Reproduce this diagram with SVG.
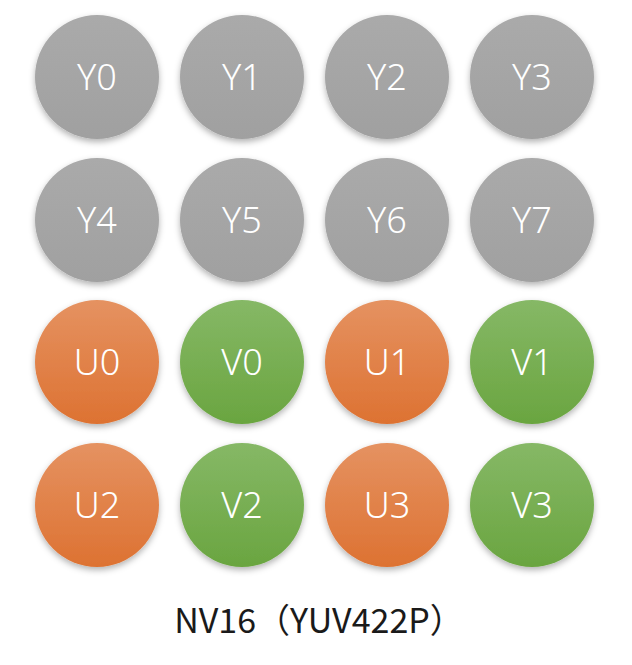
<svg xmlns="http://www.w3.org/2000/svg" width="632" height="665" viewBox="0 0 632 665">
<defs>
<linearGradient id="gy" x1="0" y1="0" x2="0" y2="1"><stop offset="0" stop-color="#aaaaaa"/><stop offset="1" stop-color="#a0a0a0"/></linearGradient>
<linearGradient id="go" x1="0" y1="0" x2="0" y2="1"><stop offset="0" stop-color="#e59261"/><stop offset="1" stop-color="#dd7232"/></linearGradient>
<linearGradient id="gg" x1="0" y1="0" x2="0" y2="1"><stop offset="0" stop-color="#86b866"/><stop offset="1" stop-color="#6aa540"/></linearGradient>
<filter id="sh" x="-20%" y="-20%" width="140%" height="150%"><feDropShadow dx="0" dy="3" stdDeviation="3" flood-color="#000" flood-opacity="0.3"/></filter>
<style>
circle{filter:url(#sh)}
.y circle{fill:url(#gy)}
.u circle{fill:url(#go)}
.v circle{fill:url(#gg)}
.n text{font-family:"Noto Sans","Liberation Sans",sans-serif;font-weight:300;font-size:36px;fill:#fff;text-anchor:middle}
.cap{font-family:"Noto Sans CJK SC","Noto Sans",sans-serif;font-size:34px;fill:#1a1a1a;text-anchor:middle}
</style>
</defs>
<rect width="632" height="665" fill="#fff"/>
<g id="Y0" class="n y"><circle cx="97" cy="77" r="62"/><text x="97" y="90">Y0</text></g>
<g id="Y1" class="n y"><circle cx="242" cy="77" r="62"/><text x="242" y="90">Y1</text></g>
<g id="Y2" class="n y"><circle cx="387" cy="77" r="62"/><text x="387" y="90">Y2</text></g>
<g id="Y3" class="n y"><circle cx="532" cy="77" r="62"/><text x="532" y="90">Y3</text></g>
<g id="Y4" class="n y"><circle cx="97" cy="220" r="62"/><text x="97" y="233">Y4</text></g>
<g id="Y5" class="n y"><circle cx="242" cy="220" r="62"/><text x="242" y="233">Y5</text></g>
<g id="Y6" class="n y"><circle cx="387" cy="220" r="62"/><text x="387" y="233">Y6</text></g>
<g id="Y7" class="n y"><circle cx="532" cy="220" r="62"/><text x="532" y="233">Y7</text></g>
<g id="U0" class="n u"><circle cx="97" cy="362" r="62"/><text x="97" y="375">U0</text></g>
<g id="V0" class="n v"><circle cx="242" cy="362" r="62"/><text x="242" y="375">V0</text></g>
<g id="U1" class="n u"><circle cx="387" cy="362" r="62"/><text x="387" y="375">U1</text></g>
<g id="V1" class="n v"><circle cx="532" cy="362" r="62"/><text x="532" y="375">V1</text></g>
<g id="U2" class="n u"><circle cx="97" cy="505" r="62"/><text x="97" y="518">U2</text></g>
<g id="V2" class="n v"><circle cx="242" cy="505" r="62"/><text x="242" y="518">V2</text></g>
<g id="U3" class="n u"><circle cx="387" cy="505" r="62"/><text x="387" y="518">U3</text></g>
<g id="V3" class="n v"><circle cx="532" cy="505" r="62"/><text x="532" y="518">V3</text></g>
<g id="connectors"></g>
<text class="cap" x="319" y="633">NV16（YUV422P）</text>
</svg>
